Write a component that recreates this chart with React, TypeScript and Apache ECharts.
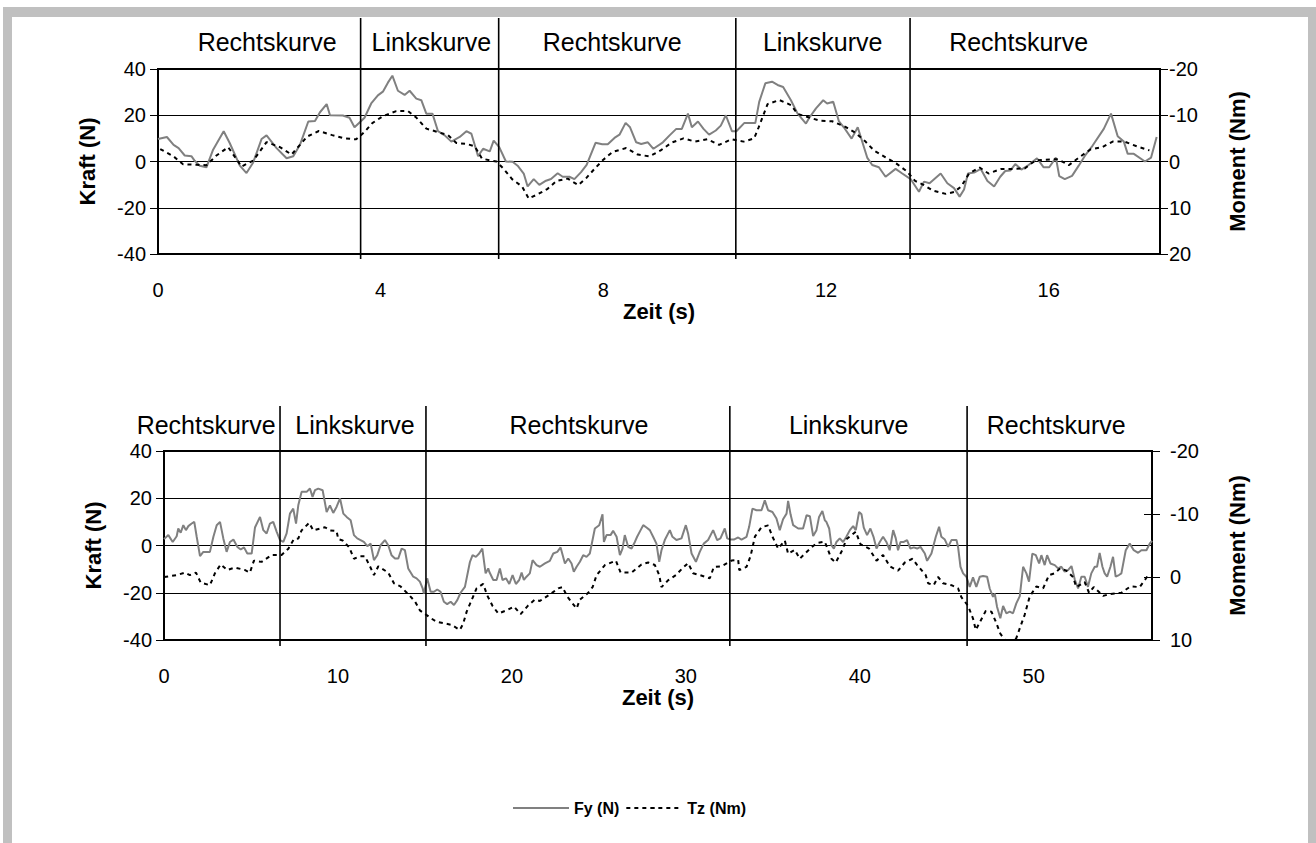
import React, { useEffect, useRef } from "react";
import * as echarts from "echarts";

const FONT = '"Liberation Sans", Arial, sans-serif';

// ---------- Top chart (0–18 s) ----------
const topFyTime = [0, 0.16, 0.28, 0.37, 0.48, 0.6, 0.66, 0.75, 0.87, 0.99, 1.18, 1.29, 1.47, 1.59, 1.71, 1.86, 1.95, 2.13, 2.31, 2.43, 2.55, 2.7, 2.82, 2.91, 3.03, 3.09, 3.32, 3.44, 3.53, 3.64, 3.71, 3.83, 3.95, 4.04, 4.13, 4.21, 4.31, 4.43, 4.52, 4.64, 4.73, 4.82, 4.93, 5.03, 5.15, 5.27, 5.42, 5.54, 5.63, 5.75, 5.84, 5.96,
  6.03, 6.13, 6.25, 6.37, 6.46, 6.57, 6.64, 6.75, 6.85, 6.97, 7.06, 7.18, 7.27, 7.39, 7.48, 7.6, 7.7, 7.86, 7.98, 8.08, 8.2, 8.29, 8.4, 8.48, 8.59, 8.68, 8.8, 8.9, 9.07, 9.19, 9.31, 9.41, 9.52, 9.59, 9.7, 9.8, 9.9, 10.02, 10.11, 10.2, 10.31, 10.39, 10.53, 10.63, 10.73, 10.8, 10.91, 11.03, 11.13, 11.23, 11.37, 11.49, 11.64,
  11.7, 11.82, 11.95, 12.02, 12.13, 12.23, 12.32, 12.46, 12.57, 12.74, 12.83, 12.95, 13.07, 13.25, 13.37, 13.52, 13.67, 13.76, 13.86, 14.06, 14.18, 14.3, 14.4, 14.48, 14.55, 14.66, 14.78, 14.9, 15.02, 15.13, 15.22, 15.31, 15.4, 15.51, 15.64, 15.79, 15.91, 16.01, 16.13, 16.19, 16.29, 16.42, 16.54, 16.66, 16.79, 16.99, 17.12, 17.24, 17.35, 17.42, 17.53, 17.73, 17.84, 17.94];
const topFy = [9.7, 10.6, 7.2, 5.8, 2.6, 2.3, 0.3, -1.8, -2.5, 5.1, 13.1, 7.9, -1.8, -5.0, -0.4, 9.7, 11.3, 5.8, 1.4, 2.3, 7.2, 17.3, 17.5, 21.3, 24.8, 20.0, 19.9, 18.9, 14.8, 17.3, 18.9, 25.1, 28.6, 30.2, 34.1, 37.1, 30.6, 28.8, 30.6, 27.2, 26.5, 20.7, 20.7, 13.1, 11.3, 8.6, 10.6, 13.1, 12.0, 2.3, 5.5, 4.4,
  9.0, 6.2, 0, -0.1, -1.8, -5.2, -10.8, -7.6, -10.1, -8.3, -7.6, -5.1, -6.6, -6.6, -7.6, -4.6, -1.5, 8.1, 7.5, 7.5, 10.2, 11.6, 16.7, 14.8, 8.3, 7.6, 8.3, 5.5, 8.3, 11.3, 14.1, 14.1, 20.7, 14.8, 17.3, 14.1, 11.6, 13.4, 15.5, 20.0, 13.1, 13.1, 16.6, 16.6, 16.6, 25.8, 33.8, 34.5, 33.1, 32.2, 26.5, 20.7, 16.4,
  18.9, 23.0, 26.5, 25.1, 25.8, 17.5, 14.8, 9.9, 14.8, 1.7, -1.5, -2.5, -6.6, -3.2, -5.2, -7.6, -13.1, -8.7, -9.4, -5.2, -9.4, -11.5, -15.2, -12.1, -5.2, -4.8, -3.2, -8.4, -10.8, -6.6, -4.1, -3.9, -1.1, -3.5, -1.5, 1.4, -2.5, -2.5, 1.7, -6.3, -7.6, -6.2, -1.8, 2.8, 6.9, 14.1, 20.7, 10.9, 8.6, 3.3, 3.3, 0, 1.7, 10.6];

const topTzTime = [0.04, 0.28, 0.45, 0.69, 0.87, 1.05, 1.26, 1.41, 1.5, 1.71, 1.95, 2.19, 2.4, 2.55, 2.68, 2.89, 3.13, 3.35, 3.56, 3.71, 3.85, 4.04, 4.28, 4.49, 4.64, 4.82, 4.99, 5.21, 5.36, 5.54, 5.69, 5.82,
  6.08, 6.21, 6.36, 6.54, 6.66, 6.82, 7.0, 7.16, 7.36, 7.55, 7.7, 7.84, 8.0, 8.17, 8.41, 8.62, 8.83, 9.03, 9.23, 9.44, 9.65, 9.87, 10.08, 10.3, 10.52, 10.71, 10.79, 10.95, 11.16, 11.37, 11.49, 11.7,
  11.9, 12.11, 12.35, 12.53, 12.71, 12.86, 13.07, 13.26, 13.46, 13.6, 13.76, 13.92, 14.15, 14.3, 14.43, 14.57, 14.76, 14.92, 15.15, 15.35, 15.57, 15.76, 15.94, 16.17, 16.36, 16.55, 16.75, 16.96, 17.15, 17.36, 17.58, 17.81];
const topTz = [-2.7, -1.1, 0.6, 0.7, 0.8, -1.3, -3.1, -0.5, 1.1, -0.2, -4.2, -3.1, -1.5, -3.6, -5.4, -6.6, -5.7, -5.0, -4.8, -6.4, -8.3, -9.8, -10.9, -10.9, -9.5, -7.1, -6.5, -5.7, -4.0, -3.8, -3.3, -0.6,
  0, 1.6, 3.8, 5.4, 8.0, 7.1, 5.9, 4.2, 3.7, 5.1, 3.5, 1.6, -0.4, -2.1, -2.9, -1.5, -1.1, -2.4, -4.1, -5.0, -4.3, -4.8, -3.6, -4.8, -4.3, -5.0, -7.4, -12.4, -13.3, -12.2, -10.3, -9.5,
  -8.8, -8.7, -7.5, -6.2, -4.3, -2.4, -0.9, 0.4, 2.2, 4.2, 5.1, 6.3, 7.0, 6.6, 5.4, 2.6, 1.3, 2.6, 1.6, 1.6, 1.5, -0.2, -0.4, -0.5, 0.8, -0.9, -2.6, -3.1, -4.3, -4.3, -3.3, -2.4];

const topDividers = [3.64, 6.12, 10.38, 13.51];
const topLabelTimes = [1.96, 4.91, 8.16, 11.94, 15.46];

// ---------- Bottom chart (0–56.8 s) ----------
const botFyTime = [0, 0.25, 0.5, 0.73, 0.82, 0.96, 1.11, 1.26, 1.4, 1.59, 1.74, 1.88, 2.07, 2.26, 2.64, 2.84, 3.03, 3.22, 3.41, 3.6, 3.79, 3.99, 4.22, 4.41, 4.6, 4.79, 5.04, 5.23, 5.52, 5.71, 5.9, 6.09, 6.28, 6.48, 6.67, 6.86, 7.05, 7.24, 7.43, 7.59, 7.72, 7.91, 8.2, 8.39, 8.54, 8.68, 8.87, 9.12, 9.35, 9.54, 9.73, 9.92, 10.12, 10.31, 10.5, 10.73, 10.92, 11.11, 11.3, 11.49, 11.69, 11.88, 12.07, 12.26, 12.45, 12.7, 12.89, 13.08, 13.28, 13.47, 13.66, 13.85, 14.04, 14.33, 14.52, 14.71, 14.87, 14.94, 15.13, 15.33, 15.52, 15.71, 15.9, 16.09, 16.28, 16.48, 16.67, 16.86, 17.05, 17.3, 17.59, 17.74, 17.93, 18.12, 18.3, 18.49, 18.64,
  18.7, 18.93, 19.12, 19.31, 19.46, 19.66, 19.85, 20.04, 20.23, 20.42, 20.56, 20.69, 20.84, 21.03, 21.19, 21.42, 21.61, 21.9, 22.18, 22.38, 22.61, 22.8, 23.05, 23.24, 23.43, 23.56, 23.72, 23.91, 24.1, 24.29, 24.48, 24.77, 25.02, 25.21, 25.29, 25.44, 25.67, 25.82, 26.02, 26.21, 26.36, 26.49, 26.69, 26.88, 27.07, 27.2, 27.4, 27.55, 27.74, 27.93, 28.12, 28.31, 28.47, 28.6, 28.79, 29.08, 29.23, 29.46, 29.75, 30.0, 30.13, 30.33, 30.58, 30.8, 31.03, 31.28, 31.57, 31.8, 31.99, 32.24, 32.38, 32.57, 32.76, 33.01, 33.2, 33.49, 33.64, 33.83, 34.06, 34.35, 34.54, 34.73, 34.98, 35.21, 35.4, 35.59, 35.79, 35.88, 36.02, 36.17, 36.46, 36.74, 36.94, 37.13, 37.32, 37.51, 37.66,
  37.85, 37.99, 38.08, 38.24, 38.37, 38.51, 38.66, 38.85, 39.04, 39.23, 39.43, 39.62, 39.77, 39.96, 40.1, 40.23, 40.42, 40.61, 40.8, 40.96, 41.15, 41.34, 41.53, 41.72, 41.92, 42.07, 42.2, 42.34, 42.53, 42.72, 42.91, 43.1, 43.3, 43.49, 43.74, 43.87, 44.12, 44.37, 44.56, 44.69, 44.89, 45.08, 45.27, 45.56, 45.65, 45.79, 45.94, 46.13, 46.32, 46.51, 46.7, 46.9, 47.09, 47.32, 47.47, 47.66, 47.76, 47.89, 48.08, 48.24, 48.43, 48.62, 48.81, 49.0, 49.2, 49.39, 49.58, 49.73, 49.92, 50.12, 50.31, 50.44, 50.63, 50.77, 50.96, 51.21, 51.4, 51.59, 51.78, 51.97, 52.17, 52.36, 52.55, 52.74, 52.93, 53.12, 53.31, 53.51, 53.64, 53.79, 53.95, 54.08, 54.22, 54.41, 54.56, 54.71, 54.9, 55.04, 55.29, 55.52, 55.75, 56.0, 56.19, 56.48, 56.67, 56.8];
const botFy = [2.7, 4.4, 1.5, 3.9, 7.2, 5.4, 8.6, 6.5, 8.2, 9.3, 10.0, 3.7, -4.5, -2.7, -2.7, 3.7, 8.6, 10.0, 3.0, -2.7, 1.5, 2.5, -0.6, -1.7, -0.8, -3.4, -3.4, 7.6, 12.1, 6.5, 5.1, 9.3, 10.0, 5.8, 2.3, 1.5, 5.1, 13.5, 15.6, 9.3, 17.0, 22.7, 22.7, 24.1, 20.6, 23.4, 24.1, 23.4, 14.2, 17.0, 13.8, 16.3, 19.9, 13.5, 12.1, 10.7, 4.4, 3.0, 2.3, 1.5, -0.3, 0.8, -6.2, -4.1, 0.1, 2.3, 0.1, -4.1, -5.5, -5.5, -1.3, -2.0, -9.7, -13.2, -13.9, -15.3, -18.2, -20.3, -13.9, -19.6, -19.6, -18.6, -19.6, -23.8, -24.8, -23.8, -25.2, -23.1, -20.0, -17.5, -6.9, -4.1, -4.8, -3.4, -1.3, -11.8, -9.7,
  -11.1, -14.6, -14.6, -9.7, -14.6, -13.9, -16.3, -12.5, -16.3, -14.6, -11.5, -14.6, -13.2, -11.8, -6.2, -8.3, -9.0, -7.6, -6.5, -3.4, -2.7, -0.8, -7.6, -5.5, -7.6, -11.1, -9.0, -6.9, -4.1, -4.8, -3.4, 7.2, 8.6, 13.2, 1.5, 4.4, 4.4, 6.2, 3.7, -4.1, -1.3, 4.4, -0.6, -1.3, 1.5, 3.7, 6.5, 8.6, 7.6, 6.5, 3.7, 0.8, -6.9, -2.0, 2.3, 6.5, 3.7, 2.3, 3.0, 8.6, 5.1, -3.4, -6.9, -2.7, 0.8, 2.3, 6.5, 2.3, 3.0, 7.2, 3.0, 2.5, 2.5, 3.4, 2.5, 3.7, 7.9, 15.6, 14.9, 14.9, 19.1, 14.9, 14.2, 11.4, 6.5, 11.1, 13.5, 18.9, 13.2, 8.6, 7.2, 7.2, 12.8, 12.4, 4.0, 6.5, 12.1,
  14.6, 10.7, 10.0, 7.2, 0.1, -1.3, 1.5, 3.0, 1.5, 3.7, 6.5, 8.2, 6.5, 14.2, 13.2, 7.6, 4.4, 7.2, 3.4, -1.3, 1.5, 3.7, 1.5, -2.0, 6.5, 3.0, -2.0, 1.5, 1.5, 2.3, -1.3, -0.8, -1.3, -0.6, -3.4, -6.5, -3.4, 3.7, 7.9, 3.7, 2.5, -0.6, 2.3, 2.3, -0.6, -9.0, -11.8, -13.2, -17.5, -13.5, -17.5, -13.2, -12.9, -13.2, -18.2, -21.7, -20.3, -25.9, -30.8, -25.6, -28.7, -28.0, -28.7, -24.5, -21.4, -9.0, -11.8, -15.3, -3.4, -4.1, -7.6, -4.1, -8.3, -4.1, -7.6, -8.3, -9.7, -9.0, -11.1, -10.4, -8.7, -14.4, -18.2, -13.2, -13.2, -17.5, -11.8, -9.0, -9.0, -3.1, -9.0, -11.8, -13.2, -9.0, -4.8, -13.2, -12.5, -11.8, -2.0, 0.8, -2.0, -3.1, -2.0, -2.0, 0.8, 2.0];

const botTzTime = [0.01, 0.73, 1.21, 1.49, 1.84, 2.11, 2.64, 2.93, 3.26, 3.64, 4.08, 4.66, 4.94, 5.17, 5.61, 6.19, 6.76, 7.15, 7.47, 7.72, 7.91, 8.35, 8.58, 9.25, 9.54, 9.92, 10.02, 10.27, 10.65, 10.92, 11.26, 11.55, 11.84, 12.07, 12.32, 12.89, 13.22, 13.6, 14.14, 14.43, 14.71, 15.38, 15.67, 16.05, 16.53, 17.01, 17.2, 17.4, 17.68, 17.97, 18.35, 18.58,
  18.89, 19.22, 19.69, 20.12, 20.5, 20.94, 21.32, 21.61, 22.22, 22.66, 22.91, 23.18, 23.49, 23.72, 23.91, 24.39, 24.64, 24.87, 25.35, 25.98, 26.25, 26.88, 27.45, 27.84, 28.22, 28.47, 28.6, 28.99, 29.43, 29.81, 30.13, 30.42, 30.81, 31.38, 31.61, 32.05, 32.63, 33.01, 33.07, 33.49, 33.72, 33.97, 34.35, 34.73, 34.98, 35.31, 35.69, 35.88, 36.26, 36.55, 36.84, 37.22, 37.55,
  37.99, 38.37, 38.62, 39.0, 39.23, 39.77, 40.04, 40.54, 40.96, 41.34, 41.72, 42.2, 42.59, 43.03, 43.3, 43.79, 43.93, 44.25, 44.5, 44.79, 45.27, 45.65, 45.84, 46.23, 46.51, 46.67, 47.24, 47.57, 47.82, 48.08, 48.43, 48.62, 49.0, 49.23, 49.48, 49.77, 50.15, 50.54, 50.88, 51.21, 51.53, 51.88, 52.26, 52.45, 52.93, 53.18, 53.45, 53.99, 54.37, 55.04, 55.56, 56.09, 56.51, 56.63];
const botTz = [0.0, -0.3, -0.7, -0.3, -0.7, 0.9, 1.3, -0.6, -2.0, -1.1, -1.5, -1.1, -0.7, -2.6, -2.4, -3.5, -3.5, -4.5, -6.0, -6.1, -7.4, -8.6, -7.4, -7.9, -7.4, -7.3, -6.0, -5.8, -4.7, -2.9, -3.3, -3.3, -1.7, -0.3, -1.7, -0.7, 1.0, 1.5, 3.0, 3.9, 5.3, 6.6, 7.1, 7.3, 7.6, 8.4, 7.4, 5.5, 3.7, 1.8, 1.1, 2.9,
  4.6, 5.8, 5.3, 4.7, 5.9, 4.5, 3.6, 3.8, 2.7, 1.8, 1.6, 3.1, 4.2, 5.0, 3.6, 2.5, 1.6, -0.3, -1.9, -2.6, -0.7, -0.7, -2.0, -2.3, -1.9, -0.3, 1.6, 0.5, -0.3, -1.4, -2.2, -0.6, -0.3, 0.2, -1.6, -1.7, -2.6, -2.7, -1.1, -1.6, -3.3, -6.4, -7.9, -8.2, -6.4, -4.5, -5.8, -3.7, -4.3, -2.9, -3.7, -4.7, -5.4,
  -5.6, -2.9, -2.3, -4.3, -6.0, -7.2, -5.2, -4.5, -2.6, -3.5, -1.7, -1.0, -2.3, -2.9, -1.9, -0.3, 1.0, 1.3, 0.0, 1.0, 1.3, 1.8, 3.2, 4.6, 6.6, 8.4, 5.4, 5.5, 7.1, 9.0, 10.3, 10.8, 9.7, 7.9, 6.0, 3.1, 1.5, 1.8, -0.3, -0.6, -1.4, -1.0, 0.0, 1.6, 0.8, 2.5, 1.6, 3.0, 2.7, 2.5, 1.5, 1.6, 0.0, -0.1];

const botDividers = [6.67, 15.06, 32.53, 46.17];
const botLabelTimes = [2.42, 10.98, 23.86, 39.36, 51.29];

const sectionNames = ["Rechtskurve", "Linkskurve", "Rechtskurve", "Linkskurve", "Rechtskurve"];

const zip = (t: number[], v: number[]) => {
  const n = Math.min(t.length, v.length);
  const out: number[][] = [];
  for (let i = 0; i < n; i++) out.push([t[i], v[i]]);
  return out;
};

const TICK = { fontSize: 20, color: "#000", fontFamily: FONT };
const TITLE = { fontSize: 22, color: "#000", fontFamily: FONT, fontWeight: "bold" as const };

function dividerSeries(xi: number, yi: number, times: number[], yTop: number, yBot: number, extTop: number, extBot: number) {
  return {
    type: "custom",
    xAxisIndex: xi,
    yAxisIndex: yi,
    silent: true,
    clip: false,
    z: 5,
    data: times.map((t) => [t, yTop]),
    renderItem: (_p: any, api: any) => {
      const t = api.value(0);
      const a = api.coord([t, yTop]);
      const b = api.coord([t, yBot]);
      return {
        type: "line",
        shape: { x1: a[0], y1: a[1] - extTop, x2: b[0], y2: b[1] + extBot },
        style: { stroke: "#000", lineWidth: 1.6 },
      };
    },
  };
}

function labelSeries(xi: number, yi: number, times: number[], yTop: number, dy: number) {
  return {
    type: "custom",
    xAxisIndex: xi,
    yAxisIndex: yi,
    silent: true,
    clip: false,
    data: times.map((t) => [t, yTop]),
    renderItem: (p: any, api: any) => {
      const a = api.coord([api.value(0), yTop]);
      return {
        type: "text",
        x: a[0],
        y: a[1] - dy,
        style: {
          text: sectionNames[p.dataIndex],
          fill: "#000",
          fontSize: 25,
          fontFamily: FONT,
          align: "center",
          verticalAlign: "middle",
        },
      };
    },
  };
}

function xAxisCfg(gridIndex: number, max: number, interval: number) {
  return {
    type: "value",
    gridIndex,
    min: 0,
    max,
    interval,
    axisLine: { show: false },
    axisTick: { show: false },
    splitLine: { show: false },
    axisLabel: {
      ...TICK,
      margin: 26,
      showMaxLabel: false,
      formatter: (v: number) => (Math.abs(v % interval) < 1e-6 ? String(v) : ""),
    },
    name: "Zeit (s)",
    nameLocation: "middle",
    nameGap: 46,
    nameTextStyle: TITLE,
  };
}

function leftAxis(gridIndex: number) {
  return {
    type: "value",
    gridIndex,
    position: "left",
    min: -40,
    max: 40,
    interval: 20,
    axisLine: { show: true, lineStyle: { color: "#000", width: 2 } },
    axisTick: { show: true, length: 8, lineStyle: { color: "#000", width: 1 } },
    splitLine: { show: true, lineStyle: { color: "#000", width: 1 } },
    axisLabel: { ...TICK, margin: 12 },
    name: "Kraft (N)",
    nameLocation: "middle",
    nameRotate: 90,
    nameGap: 60,
    nameTextStyle: TITLE,
  };
}

function rightAxis(gridIndex: number, min: number, max: number, margin: number, nameGap: number) {
  return {
    type: "value",
    gridIndex,
    position: "right",
    min,
    max,
    interval: 10,
    inverse: true,
    axisLine: { show: true, lineStyle: { color: "#000", width: 2 } },
    axisTick: { show: true, length: 8, lineStyle: { color: "#000", width: 1 } },
    splitLine: { show: false },
    axisLabel: { ...TICK, margin },
    name: "Moment (Nm)",
    nameLocation: "middle",
    nameRotate: 90,
    nameGap,
    nameTextStyle: TITLE,
  };
}

function innerTickAxis(gridIndex: number, min: number, max: number) {
  return {
    type: "value",
    gridIndex,
    position: "right",
    min,
    max,
    interval: 10,
    inverse: true,
    axisLine: { show: false },
    axisTick: { show: true, inside: true, length: 8, lineStyle: { color: "#000", width: 1 } },
    splitLine: { show: false },
    axisLabel: { show: false },
  };
}

const fyStyle = { color: "#808080", width: 2 };
const tzStyle = { color: "#000", width: 2, type: [4, 4] as number[] };

export default function App() {
  const ref = useRef<HTMLDivElement>(null);
  useEffect(() => {
    if (!ref.current) return;
    const chart = echarts.init(ref.current, undefined, { renderer: "svg" });
    chart.setOption({
      animation: false,
      backgroundColor: "#fff",
      textStyle: { fontFamily: FONT },
      grid: [
        { left: 158, top: 69, width: 1002, height: 185, show: true, borderColor: "#000", borderWidth: 2, containLabel: false },
        { left: 164, top: 451, width: 988, height: 189, show: true, borderColor: "#000", borderWidth: 2, containLabel: false },
      ],
      xAxis: [xAxisCfg(0, 18, 4), xAxisCfg(1, 56.8, 10)],
      yAxis: [
        leftAxis(0),
        rightAxis(0, -20, 20, 9, 66),
        leftAxis(1),
        rightAxis(1, -20, 10, 18, 74),
        innerTickAxis(1, -20, 10),
      ],
      legend: {
        data: ["Fy (N)", "Tz (Nm)"],
        left: 507,
        top: 795,
        itemWidth: 56,
        itemHeight: 1.5,
        itemGap: 6,
        selectedMode: false,
        textStyle: { color: "#000", fontFamily: FONT, fontWeight: "bold", fontSize: 16 },
      },
      graphic: [
        { type: "rect", shape: { x: 3, y: 7, width: 1313, height: 10 }, style: { fill: "#c0c0c0" } },
        { type: "rect", shape: { x: 3, y: 7, width: 9, height: 836 }, style: { fill: "#c0c0c0" } },
        { type: "rect", shape: { x: 1308, y: 7, width: 8, height: 836 }, style: { fill: "#c0c0c0" } },
      ],
      series: [
        { name: "Fy (N)", type: "line", xAxisIndex: 0, yAxisIndex: 0, symbol: "none", color: "#808080", lineStyle: fyStyle, data: zip(topFyTime, topFy), z: 3 },
        { name: "Tz (Nm)", type: "line", xAxisIndex: 0, yAxisIndex: 1, symbol: "none", color: "#000", lineStyle: tzStyle, data: zip(topTzTime, topTz), z: 4 },
        { name: "Fy (N)", type: "line", xAxisIndex: 1, yAxisIndex: 2, symbol: "none", color: "#808080", lineStyle: fyStyle, data: zip(botFyTime, botFy), z: 3 },
        { name: "Tz (Nm)", type: "line", xAxisIndex: 1, yAxisIndex: 3, symbol: "none", color: "#000", lineStyle: tzStyle, data: zip(botTzTime, botTz), z: 4 },
        dividerSeries(0, 0, topDividers, 40, -40, 51, 5),
        dividerSeries(1, 2, botDividers, 40, -40, 45, 6),
        labelSeries(0, 0, topLabelTimes, 40, 27),
        labelSeries(1, 2, botLabelTimes, 40, 26),
      ],
    });
    return () => chart.dispose();
  }, []);
  return (
    <div
      ref={ref}
      style={{ position: "absolute", left: 0, top: 0, width: 1316, height: 843, background: "#fff" }}
    />
  );
}
